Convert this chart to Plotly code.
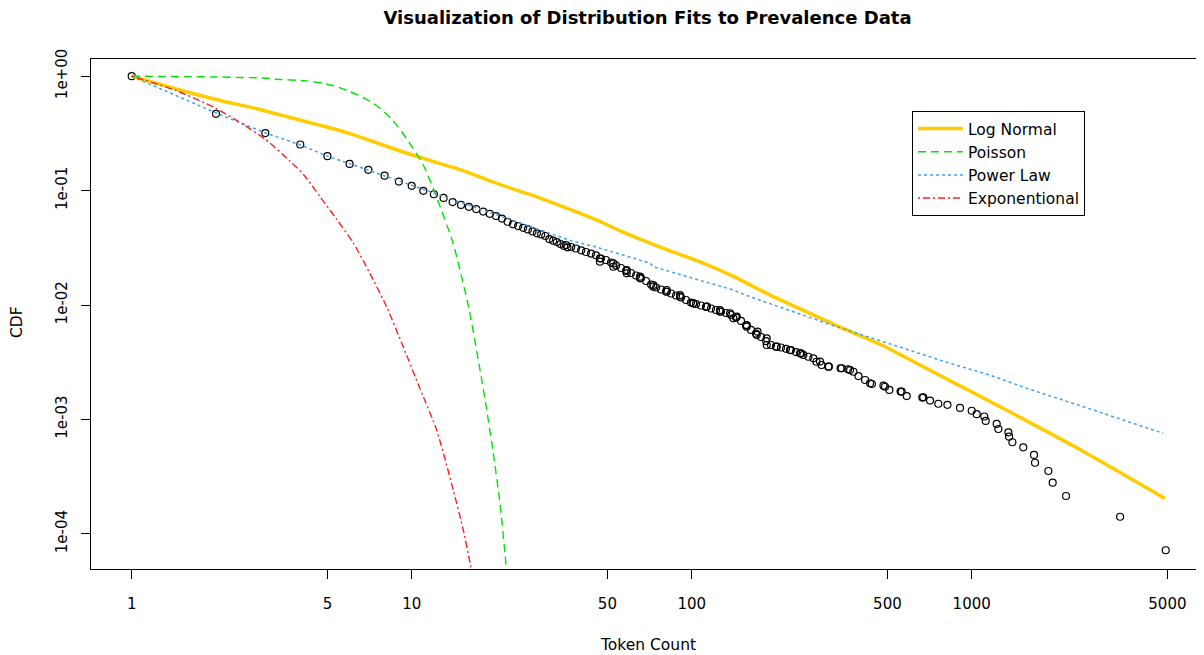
import plotly.graph_objects as go

# ---- empirical data (token count, complementary CDF), read off the picture ----
# single, well separated circles (low counts)
low_x = [1, 2, 3, 4, 5, 6, 7, 8, 9, 10, 11, 12, 13, 14, 15, 16, 17, 18, 19, 20,
         21, 22, 23, 24, 25, 26, 27, 28, 29, 30, 31, 32, 33, 34, 35, 36]
low_y = [1.0, 0.469, 0.318, 0.253, 0.200, 0.171, 0.152, 0.135, 0.120, 0.110,
         0.0996, 0.0929, 0.0863, 0.0794, 0.0750, 0.0722, 0.0690, 0.0655, 0.0626,
         0.0599, 0.0569, 0.0534, 0.0507, 0.0490, 0.0473, 0.0458, 0.0440, 0.0423,
         0.0414, 0.0401, 0.0377, 0.0365, 0.0355, 0.0341, 0.0328, 0.0319]

# dense band of overlapping circles (medium counts)
band_x = [35.6, 37.1, 38.6, 40.3, 41.9, 43.7, 45.5, 47.4, 49.4, 51.5, 53.7, 55.9,
          58.3, 60.7, 63.3, 65.9, 68.7, 71.6, 74.6, 77.7, 81.0, 84.4, 87.9, 91.6,
          95.4, 99.4, 103.6, 107.9, 112.5, 117.2, 122.1, 127.2, 132.6, 138.2, 144.0,
          150.0, 156.3, 162.8, 169.7, 176.8, 184.2, 191.9, 200.0, 208.4, 217.2,
          226.2, 235.8, 245.7,
          47.0, 52.5, 58.6, 65.4, 72.9, 81.4, 90.8, 101.3, 113.1, 126.2, 137.1,
          144.8, 157.2, 170.6, 185.3, 201.2, 224.4, 243.8,
          47.0, 52.5, 58.6, 65.4, 72.9, 81.4, 90.8, 101.3, 113.1, 126.2, 140.8,
          157.2, 171.8, 185.3]
band_y = [0.03345, 0.03214, 0.03118, 0.03007, 0.02906, 0.02814, 0.02720, 0.02550,
          0.02474, 0.02352, 0.02214, 0.02105, 0.01982, 0.01904, 0.01810, 0.01722,
          0.01621, 0.01510, 0.01422, 0.01366, 0.01312, 0.01260, 0.01211, 0.01163,
          0.01106, 0.01051, 0.01020, 0.00990, 0.00960, 0.00932, 0.00904, 0.00877,
          0.00851, 0.00818, 0.00777, 0.00725, 0.00662, 0.00605, 0.00563, 0.00525,
          0.00484, 0.00447, 0.00432, 0.00425, 0.00414, 0.00404, 0.00388, 0.00377,
          0.0256, 0.0231, 0.0202, 0.0177, 0.01445, 0.01306, 0.01182, 0.01035,
          0.00966, 0.00904, 0.00846, 0.00790, 0.00646, 0.00547, 0.00447, 0.00432,
          0.00404, 0.00378,
          0.0239, 0.0216, 0.0189, 0.0171, 0.01496, 0.01352, 0.01222, 0.01035,
          0.00966, 0.00874, 0.00765, 0.00668, 0.00584, 0.00511]

# sparse tail (high counts)
tail_x = [250.4, 261, 271.9, 279, 287.2, 291, 307.5, 309, 340, 343.4, 362, 367.7,
          378, 394, 416, 433.5, 440, 484, 490.2, 508, 557, 562.3, 586, 666, 671.5,
          710, 760, 819, 908, 1000, 1042, 1109, 1122, 1228, 1245, 1352, 1360,
          1397, 1528, 1669, 1683, 1878, 1946, 2172, 3388, 4930]
tail_y = [0.00366, 0.00353, 0.00342, 0.00319, 0.00320, 0.00299, 0.00289, 0.00289,
          0.00280, 0.00280, 0.00274, 0.00270, 0.00261, 0.00239, 0.00221, 0.00207,
          0.00204, 0.00197, 0.00193, 0.00181, 0.00175, 0.00175, 0.00160, 0.00155,
          0.00156, 0.00146, 0.00137, 0.00134, 0.00126, 0.00119, 0.00111, 0.00106,
          0.000969, 0.000912, 0.000824, 0.000771, 0.000706, 0.000631, 0.000570,
          0.000489, 0.000418, 0.000354, 0.000280, 0.000214, 0.000141, 0.0000718]

# ---- fitted distributions ----
lognorm_x = [1, 1.615, 2.124, 2.795, 3.675, 4.83, 6.02, 9.08, 11.0, 15.72, 19.04,
             24.4, 27.2, 36.7, 47.0, 55.5, 81.4, 107.2, 140.8, 190.5, 243.8,
             329.4, 483.5, 570, 836.5, 986, 1448, 2505, 4898]
lognorm_y = [1.0, 0.716, 0.604, 0.52, 0.435, 0.366, 0.315, 0.222, 0.1915, 0.146,
             0.1215, 0.0985, 0.0905, 0.0685, 0.0538, 0.0445, 0.0305, 0.0238, 0.0178,
             0.0122, 0.00925, 0.0066, 0.00440, 0.00356, 0.00218, 0.00177, 0.00108,
             0.000525, 0.000204]

poisson_x = [1, 2, 3.12, 3.3, 4.2, 4.83, 5.4, 6.02, 6.8, 7.5, 8.5, 9.6, 11.0,
             12.28, 14.08, 16.02, 17.54, 18.53, 19.56, 20.66, 21.53, 22.1]
poisson_y = [1.0, 0.985, 0.958, 0.94, 0.91, 0.867, 0.81, 0.732, 0.64, 0.552, 0.42,
             0.283, 0.1675, 0.0870, 0.0341, 0.00923, 0.00270, 0.00121, 0.000505,
             0.000185, 0.0000676, 0.000034]

powerlaw_x = [1, 2.012, 3.01, 4.02, 5, 6, 28.7, 36.7, 47.0, 55.5, 71.0, 72.9,
              107.2, 140.8, 161.5, 243.8, 329.4, 570, 836.5, 1162, 1571, 2505, 4831]
powerlaw_y = [1.0, 0.474, 0.3187, 0.250, 0.200, 0.172, 0.0453, 0.0368, 0.0314,
              0.0277, 0.0232, 0.0216, 0.01655, 0.01352, 0.0118, 0.00834, 0.00646,
              0.00419, 0.00309, 0.00244, 0.00187, 0.00129, 0.000755]

expo_x = [1, 1.448, 1.995, 2.504, 3.01, 3.675, 4.10, 4.705, 5.40, 6.18, 7.10, 8.14,
          9.33, 10.71, 12.28, 14.08, 15.28, 16.15, 16.55]
expo_y = [1.0, 0.745, 0.524, 0.378, 0.279, 0.181, 0.139, 0.0885, 0.0560, 0.0350,
          0.0188, 0.00960, 0.00430, 0.00185, 0.000807, 0.000240, 0.000108,
          0.0000560, 0.000040]

x_ticks = [1, 5, 10, 50, 100, 500, 1000, 5000]
x_ticktext = ["1", "5", "10", "50", "100", "500", "1000", "5000"]
y_ticks = [1, 0.1, 0.01, 0.001, 0.0001]
y_ticktext = ["1e+00", "1e-01", "1e-02", "1e-03", "1e-04"]

FONT = "DejaVu Sans"
W, H = 1196, 647          # page adds an 8px body margin

data_x = low_x + band_x + tail_x
data_y = low_y + band_y + tail_y

fig = go.Figure()
fig.add_trace(go.Scatter(
    x=data_x, y=data_y, mode="markers", showlegend=False,
    marker=dict(symbol="circle-open", size=7, color="black", line=dict(width=1.2)),
    hoverinfo="x+y"))
fig.add_trace(go.Scatter(
    x=lognorm_x, y=lognorm_y, mode="lines", name="Log Normal",
    line=dict(color="#FFCC00", width=3.5, shape="spline", smoothing=0.6)))
fig.add_trace(go.Scatter(
    x=poisson_x, y=poisson_y, mode="lines", name="Poisson",
    line=dict(color="#00E400", width=1.4, dash="8px,5px", shape="spline", smoothing=0.6)))
fig.add_trace(go.Scatter(
    x=powerlaw_x, y=powerlaw_y, mode="lines", name="Power Law",
    line=dict(color="#3FA3EE", width=1.5, dash="3px,3px")))
fig.add_trace(go.Scatter(
    x=expo_x, y=expo_y, mode="lines", name="Exponentional",
    line=dict(color="#FF2020", width=1.4, dash="2px,3px,7px,3px", shape="spline", smoothing=0.6)))

fig.update_layout(
    width=W, height=H,
    margin=dict(l=83, r=0, t=51, b=86),
    paper_bgcolor="white", plot_bgcolor="white",
    font=dict(family=FONT, size=15, color="black"),
    title=dict(text="<b>Visualization of Distribution Fits to Prevalence Data</b>",
               x=0.5, xref="paper", xanchor="center",
               y=1 - 10 / H, yref="container", yanchor="middle",
               font=dict(family=FONT, size=18, color="black")),
    legend=dict(x=(912 - 91) / 1113, y=(569 - 111) / 510, xanchor="left", yanchor="top",
                bordercolor="black", borderwidth=1, bgcolor="white",
                font=dict(family=FONT, size=15.5, color="black"),
                itemwidth=45, tracegroupgap=0),
    showlegend=True,
)
fig.update_xaxes(
    type="log", range=[-0.1454, 3.8296],
    tickvals=x_ticks, ticktext=x_ticktext,
    ticks="outside", ticklen=9, tickwidth=1, tickcolor="black",
    ticklabelstandoff=12,
    showline=True, linecolor="black", linewidth=1, mirror=True,
    showgrid=False, zeroline=False)
fig.update_yaxes(
    type="log", range=[-4.3077, 0.1503],
    tickvals=y_ticks, ticktext=y_ticktext, tickangle=-90,
    ticks="outside", ticklen=9, tickwidth=1, tickcolor="black",
    ticklabelstandoff=8,
    showline=True, linecolor="black", linewidth=1, mirror=False,
    showgrid=False, zeroline=False)

fig.add_annotation(text="Token Count", x=0.5, y=(569 - 645) / 510,
                   xref="paper", yref="paper", showarrow=False,
                   xanchor="center", yanchor="middle",
                   font=dict(family=FONT, size=15.5, color="black"))
fig.add_annotation(text="CDF", x=(17 - 91) / 1113, y=(569 - 322) / 510,
                   xref="paper", yref="paper", showarrow=False, textangle=-90,
                   xanchor="center", yanchor="middle",
                   font=dict(family=FONT, size=15.5, color="black"))

fig.write_html("out.html")
